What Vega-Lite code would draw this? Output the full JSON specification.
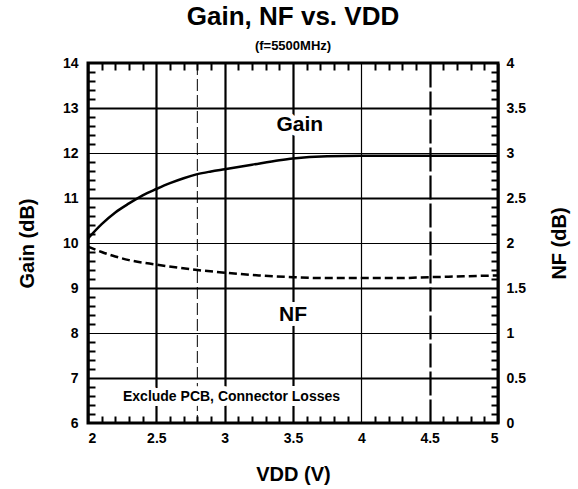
{
  "$schema": "https://vega.github.io/schema/vega-lite/v6.json",
  "width": 410,
  "height": 360,
  "autosize": {"type": "none"},
  "padding": {"left": 88, "top": 63, "right": 80, "bottom": 66},
  "background": "white",
  "config": {
    "font": "Liberation Sans",
    "view": {"stroke": "black", "strokeWidth": 3},
    "axis": {
      "labelFont": "Liberation Sans",
      "labelFontWeight": "bold",
      "labelFontSize": 14,
      "labelColor": "black",
      "titleFont": "Liberation Sans",
      "titleFontSize": 20,
      "titleFontWeight": "bold",
      "titleColor": "black",
      "domain": false,
      "grid": false
    }
  },
  "title": {
    "text": "Gain, NF vs. VDD",
    "subtitle": "(f=5500MHz)",
    "font": "Liberation Sans",
    "fontSize": 26,
    "fontWeight": "bold",
    "color": "black",
    "subtitleFont": "Liberation Sans",
    "subtitleFontSize": 13,
    "subtitleFontWeight": "bold",
    "subtitleColor": "black",
    "subtitlePadding": 10,
    "anchor": "middle",
    "offset": 3
  },
  "datasets": {
    "gain": [
      {"v": 2.0, "g": 10.1}, {"v": 2.1, "g": 10.42}, {"v": 2.2, "g": 10.68},
      {"v": 2.3, "g": 10.88}, {"v": 2.4, "g": 11.06}, {"v": 2.5, "g": 11.2},
      {"v": 2.6, "g": 11.33}, {"v": 2.7, "g": 11.44}, {"v": 2.8, "g": 11.53},
      {"v": 2.9, "g": 11.59}, {"v": 3.0, "g": 11.64}, {"v": 3.2, "g": 11.74},
      {"v": 3.4, "g": 11.84}, {"v": 3.5, "g": 11.88}, {"v": 3.75, "g": 11.93},
      {"v": 4.0, "g": 11.94}, {"v": 4.5, "g": 11.94}, {"v": 5.0, "g": 11.94}
    ],
    "nf": [
      {"v": 2.0, "n": 1.96}, {"v": 2.1, "n": 1.9}, {"v": 2.2, "n": 1.85},
      {"v": 2.3, "n": 1.81}, {"v": 2.5, "n": 1.76}, {"v": 2.8, "n": 1.7},
      {"v": 3.0, "n": 1.67}, {"v": 3.25, "n": 1.64}, {"v": 3.5, "n": 1.62},
      {"v": 3.75, "n": 1.61}, {"v": 4.0, "n": 1.61}, {"v": 4.25, "n": 1.61},
      {"v": 4.5, "n": 1.62}, {"v": 4.75, "n": 1.63}, {"v": 5.0, "n": 1.64}
    ],
    "gainlabels": [
      {"v": 3.55, "g": 12.62, "label": "Gain", "size": "big"},
      {"v": 3.05, "g": 6.58, "label": "Exclude PCB, Connector Losses", "size": "small"}
    ],
    "nflabels": [
      {"v": 3.5, "n": 1.2, "label": "NF"}
    ],
    "marker": [
      {"v": 2.8}
    ]
  },
  "layer": [
    {
      "data": {"name": "marker"},
      "mark": {"type": "rule", "color": "black", "strokeWidth": 1, "strokeDash": [12, 4]},
      "encoding": {
        "x": {"field": "v", "type": "quantitative", "scale": {"domain": [2, 5], "nice": false}, "axis": null}
      }
    },
    {
      "data": {"name": "gain"},
      "mark": {"type": "line", "color": "black", "strokeWidth": 2.5, "interpolate": "monotone"},
      "encoding": {
        "x": {
          "field": "v", "type": "quantitative",
          "scale": {"domain": [2, 5], "nice": false},
          "axis": {
            "orient": "bottom",
            "values": [2, 2.5, 3, 3.5, 4, 4.5, 5],
            "format": "~g",
            "ticks": false,
            "labelPadding": 8,
            "grid": true,
            "gridColor": "black",
            "gridOpacity": 1,
            "gridWidth": {"condition": {"test": "datum.value === 4", "value": 1.2}, "value": 2.2},
            "gridDash": {"condition": {"test": "datum.value === 4.5", "value": [24, 4]}, "value": []},
            "title": "VDD (V)",
            "titlePadding": 19
          }
        },
        "y": {
          "field": "g", "type": "quantitative",
          "scale": {"domain": [6, 14], "nice": false, "zero": false},
          "axis": {
            "orient": "left",
            "values": [6, 7, 8, 9, 10, 11, 12, 13, 14],
            "ticks": false,
            "labelPadding": 10,
            "grid": true,
            "gridColor": "black",
            "gridOpacity": 1,
            "gridWidth": {"condition": {"test": "datum.value % 2 === 1", "value": 2.2}, "value": 1.2},
            "title": "Gain (dB)",
            "titlePadding": 25
          }
        }
      }
    },
    {
      "data": {"name": "nf"},
      "mark": {"type": "line", "color": "black", "strokeWidth": 2.5, "strokeDash": [8, 4], "interpolate": "monotone"},
      "encoding": {
        "x": {
          "field": "v", "type": "quantitative",
          "scale": {"domain": [2, 5], "nice": false},
          "axis": {
            "orient": "bottom",
            "values": [2.1, 2.2, 2.3, 2.4, 2.6, 2.7, 2.8, 2.9, 3.1, 3.2, 3.3, 3.4, 3.6, 3.7, 3.8, 3.9, 4.1, 4.2, 4.3, 4.4, 4.6, 4.7, 4.8, 4.9],
            "labels": false,
            "ticks": true,
            "tickSize": -7,
            "tickWidth": 2,
            "tickColor": "black",
            "title": null
          }
        },
        "y": {
          "field": "n", "type": "quantitative",
          "scale": {"domain": [0, 4], "nice": false, "zero": false},
          "axis": {
            "orient": "right",
            "values": [0, 0.5, 1, 1.5, 2, 2.5, 3, 3.5, 4],
            "format": "~g",
            "ticks": false,
            "labelPadding": 8,
            "title": "NF (dB)",
            "titleAngle": 270,
            "titlePadding": 44
          }
        }
      }
    },
    {
      "data": {"name": "gainlabels"},
      "mark": {"type": "text", "font": "Liberation Sans", "fontWeight": "bold", "stroke": "white", "strokeWidth": 10, "fill": "white", "strokeJoin": "round"},
      "encoding": {
        "x": {
          "field": "v", "type": "quantitative",
          "scale": {"domain": [2, 5], "nice": false},
          "axis": {
            "orient": "top",
            "values": [2.1, 2.2, 2.3, 2.4, 2.6, 2.7, 2.8, 2.9, 3.1, 3.2, 3.3, 3.4, 3.6, 3.7, 3.8, 3.9, 4.1, 4.2, 4.3, 4.4, 4.6, 4.7, 4.8, 4.9],
            "labels": false,
            "ticks": true,
            "tickSize": -7,
            "tickWidth": 2,
            "tickColor": "black",
            "title": null
          }
        },
        "y": {
          "field": "g", "type": "quantitative",
          "scale": {"domain": [6, 14], "nice": false, "zero": false},
          "axis": {
            "orient": "left",
            "values": [6.2, 6.4, 6.6, 6.8, 7.2, 7.4, 7.6, 7.8, 8.2, 8.4, 8.6, 8.8, 9.2, 9.4, 9.6, 9.8, 10.2, 10.4, 10.6, 10.8, 11.2, 11.4, 11.6, 11.8, 12.2, 12.4, 12.6, 12.8, 13.2, 13.4, 13.6, 13.8],
            "labels": false,
            "ticks": true,
            "tickSize": -7,
            "tickWidth": 2,
            "tickColor": "black",
            "title": null
          }
        },
        "text": {"field": "label"},
        "size": {"field": "size", "type": "nominal", "scale": {"domain": ["big", "small"], "range": [21, 14]}, "legend": null}
      }
    },
    {
      "data": {"name": "gainlabels"},
      "mark": {"type": "text", "font": "Liberation Sans", "fontWeight": "bold", "fill": "black"},
      "encoding": {
        "x": {"field": "v", "type": "quantitative", "scale": {"domain": [2, 5], "nice": false}, "axis": null},
        "y": {"field": "g", "type": "quantitative", "scale": {"domain": [6, 14], "nice": false, "zero": false}, "axis": null},
        "text": {"field": "label"},
        "size": {"field": "size", "type": "nominal", "scale": {"domain": ["big", "small"], "range": [21, 14]}, "legend": null}
      }
    },
    {
      "data": {"name": "nflabels"},
      "mark": {"type": "text", "font": "Liberation Sans", "fontWeight": "bold", "fontSize": 21, "stroke": "white", "strokeWidth": 10, "fill": "white", "strokeJoin": "round"},
      "encoding": {
        "x": {"field": "v", "type": "quantitative", "scale": {"domain": [2, 5], "nice": false}, "axis": null},
        "y": {
          "field": "n", "type": "quantitative",
          "scale": {"domain": [0, 4], "nice": false, "zero": false},
          "axis": {
            "orient": "right",
            "values": [0.1, 0.2, 0.3, 0.4, 0.6, 0.7, 0.8, 0.9, 1.1, 1.2, 1.3, 1.4, 1.6, 1.7, 1.8, 1.9, 2.1, 2.2, 2.3, 2.4, 2.6, 2.7, 2.8, 2.9, 3.1, 3.2, 3.3, 3.4, 3.6, 3.7, 3.8, 3.9],
            "labels": false,
            "ticks": true,
            "tickSize": -7,
            "tickWidth": 2,
            "tickColor": "black",
            "title": null
          }
        },
        "text": {"field": "label"}
      }
    },
    {
      "data": {"name": "nflabels"},
      "mark": {"type": "text", "font": "Liberation Sans", "fontWeight": "bold", "fontSize": 21, "fill": "black"},
      "encoding": {
        "x": {"field": "v", "type": "quantitative", "scale": {"domain": [2, 5], "nice": false}, "axis": null},
        "y": {"field": "n", "type": "quantitative", "scale": {"domain": [0, 4], "nice": false, "zero": false}, "axis": null},
        "text": {"field": "label"}
      }
    }
  ],
  "resolve": {
    "scale": {"x": "independent", "y": "independent", "size": "independent"},
    "axis": {"x": "independent", "y": "independent"}
  }
}
